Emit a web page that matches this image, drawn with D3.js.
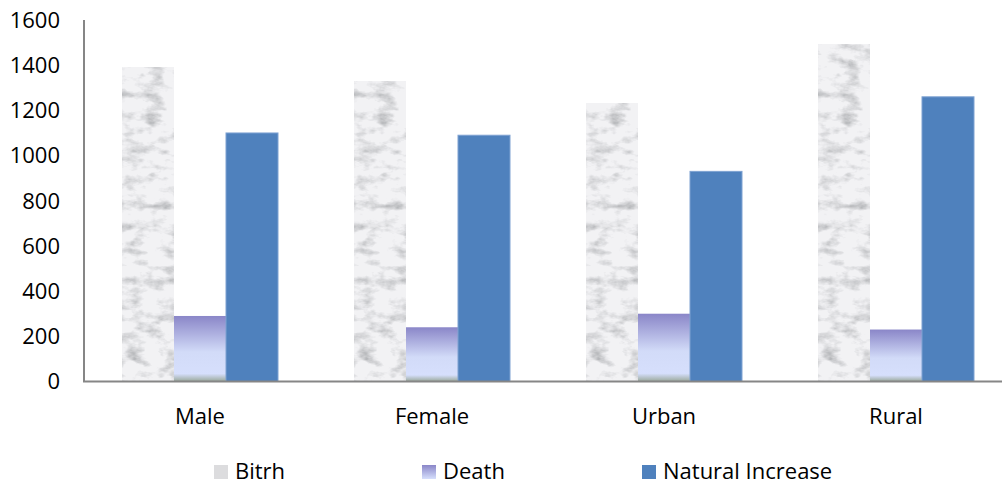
<!DOCTYPE html>
<html>
<head>
<meta charset="utf-8">
<script src="https://cdn.jsdelivr.net/npm/d3@7"></script>
<style>
  body { margin: 0; background: #fff; }
  text { font-family: "Open Sans", "Noto Sans", sans-serif; fill: #000; }
</style>
</head>
<body>
<svg id="chart" width="1002" height="485"></svg>
<script>
var categories = ["Male", "Female", "Urban", "Rural"];
var seriesNames = ["Bitrh", "Death", "Natural Increase"];
var birth = [1390, 1330, 1230, 1490];
var death = [290, 240, 300, 230];
var natural = [1100, 1090, 930, 1260];
var yTicks = [0, 200, 400, 600, 800, 1000, 1200, 1400, 1600];

var svg = d3.select("#chart");
var plotLeft = 84, plotTop = 20, plotBottom = 381.5, plotRight = 1012;

var x0 = d3.scaleBand().domain(categories).range([plotLeft, plotRight]).paddingInner(0).paddingOuter(0);
var x1 = d3.scaleBand().domain(seriesNames).range([38, x0.bandwidth() - 38]);
var y = d3.scaleLinear().domain([0, 1600]).range([plotBottom, plotTop]);

var defs = svg.append("defs");
// marble-ish texture for birth bars
var f = defs.append("filter").attr("id", "marble")
  .attr("x", 0).attr("y", 0).attr("width", 1).attr("height", 1);
f.append("feTurbulence").attr("type", "fractalNoise")
  .attr("baseFrequency", "0.05 0.09").attr("numOctaves", 4).attr("seed", 3).attr("result", "n");
f.append("feColorMatrix").attr("in", "n").attr("type", "matrix")
  .attr("values", "0 0 0 0 0  0 0 0 0 0  0 0 0 0 0  -0.9 -0.9 -0.9 0 1.4")
  .attr("result", "a");
f.append("feFlood").attr("flood-color", "#7c8084").attr("result", "dark");
f.append("feComposite").attr("in", "dark").attr("in2", "a").attr("operator", "in").attr("result", "spots");
f.append("feFlood").attr("flood-color", "#f2f2f4").attr("result", "base");
f.append("feMerge").call(function(m) {
  m.append("feMergeNode").attr("in", "base");
  m.append("feMergeNode").attr("in", "spots");
});

var g1 = defs.append("linearGradient").attr("id", "deathGrad").attr("x1", 0).attr("y1", 0).attr("x2", 0).attr("y2", 1);
g1.append("stop").attr("offset", "0%").attr("stop-color", "#8a86c8");
g1.append("stop").attr("offset", "55%").attr("stop-color", "#d2dbf8");
g1.append("stop").attr("offset", "88%").attr("stop-color", "#d6dffc");
g1.append("stop").attr("offset", "100%").attr("stop-color", "#9aa89a");

var g2 = defs.append("linearGradient").attr("id", "deathLeg").attr("x1", 0).attr("y1", 0).attr("x2", 0).attr("y2", 1);
g2.append("stop").attr("offset", "0%").attr("stop-color", "#8a86c8");
g2.append("stop").attr("offset", "100%").attr("stop-color", "#d6dffc");

var colors = { "Bitrh": "#e4e4e6", "Death": "url(#deathGrad)", "Natural Increase": "#4f81bd" };
var legColors = { "Bitrh": "#dcdcde", "Death": "url(#deathLeg)", "Natural Increase": "#4f81bd" };

var rows = categories.map(function(c, i) {
  return { cat: c, vals: [
    { key: "Bitrh", value: birth[i] },
    { key: "Death", value: death[i] },
    { key: "Natural Increase", value: natural[i] }
  ]};
});

var groups = svg.append("g").selectAll("g").data(rows).enter().append("g")
  .attr("transform", function(d) { return "translate(" + x0(d.cat) + ",0)"; });

groups.selectAll("rect").data(function(d) { return d.vals; }).enter().append("rect")
  .attr("x", function(d) { return x1(d.key); })
  .attr("y", function(d) { return y(d.value); })
  .attr("width", x1.bandwidth())
  .attr("height", function(d) { return y(0) - y(d.value); })
  .attr("fill", function(d) { return colors[d.key]; })
  .attr("filter", function(d) { return d.key == "Bitrh" ? "url(#marble)" : null; })
  .attr("stroke", function(d) { return d.key == "Natural Increase" ? "#7ea2d2" : "none"; })
  .attr("stroke-width", 1);

// axes
svg.append("line").attr("x1", plotLeft).attr("x2", plotLeft).attr("y1", plotTop).attr("y2", plotBottom)
  .attr("stroke", "#868686").attr("stroke-width", 2);
svg.append("line").attr("x1", plotLeft - 1).attr("x2", plotRight).attr("y1", plotBottom).attr("y2", plotBottom)
  .attr("stroke", "#868686").attr("stroke-width", 2);

svg.append("g").selectAll("text").data(yTicks).enter().append("text")
  .attr("x", 60).attr("y", function(d) { return y(d); })
  .attr("dy", "0.36em").attr("text-anchor", "end")
  .style("font-size", "22px")
  .text(function(d) { return d; });

svg.append("g").selectAll("text").data(categories).enter().append("text")
  .attr("x", function(d) { return x0(d) + x0.bandwidth() / 2; })
  .attr("y", 424).attr("text-anchor", "middle")
  .style("font-size", "22px")
  .text(function(d) { return d; });

// legend
var legX = [214, 422, 642];
var leg = svg.append("g").selectAll("g").data(seriesNames).enter().append("g")
  .attr("transform", function(d, i) { return "translate(" + legX[i] + ",465)"; });
leg.append("rect").attr("width", 14).attr("height", 14)
  .attr("fill", function(d) { return legColors[d]; });
leg.append("text").attr("x", 21).attr("y", 14).style("font-size", "22px")
  .text(function(d) { return d; });
</script>
</body>
</html>
